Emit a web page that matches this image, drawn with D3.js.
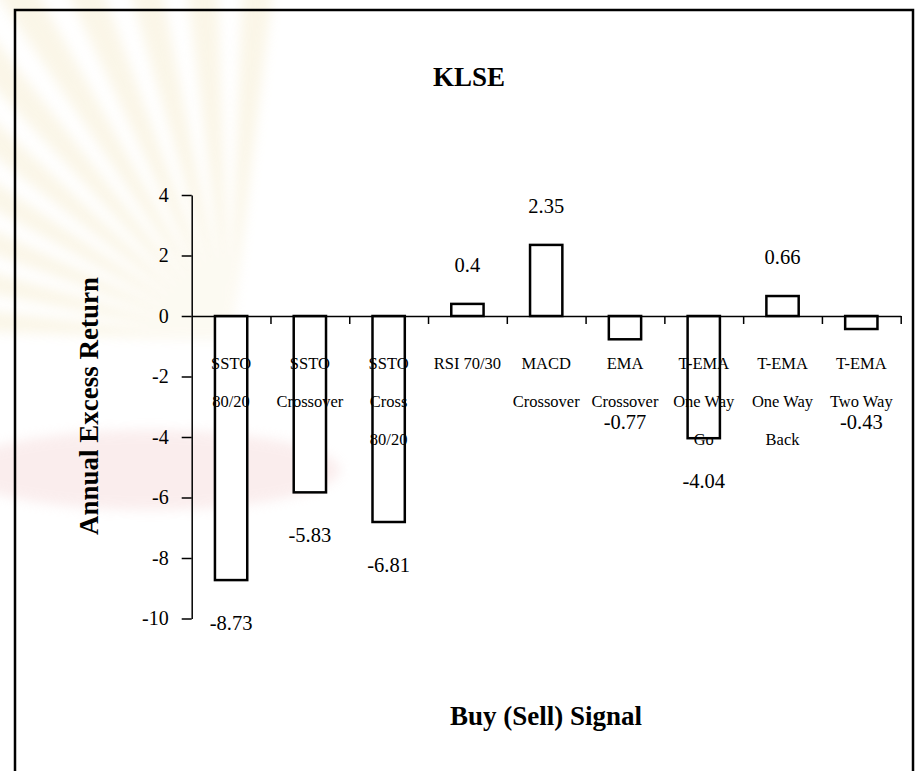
<!DOCTYPE html>
<html>
<head>
<meta charset="utf-8">
<script src="https://cdn.jsdelivr.net/npm/d3@7"></script>
<style>
  body { margin: 0; background: #fff; }
  svg { display: block; }
  text { font-family: "Liberation Serif", "Times New Roman", serif; fill: #000; }
</style>
</head>
<body>
<script>
// data
var categories = ["SSTO 80/20", "SSTO Crossover", "SSTO Cross 80/20", "RSI 70/30", "MACD Crossover",
                  "EMA Crossover", "T-EMA One Way Go", "T-EMA One Way Back", "T-EMA Two Way"];
var categoryLines = [["SSTO", "80/20"], ["SSTO", "Crossover"], ["SSTO", "Cross", "80/20"], ["RSI 70/30"],
                     ["MACD", "Crossover"], ["EMA", "Crossover"], ["T-EMA", "One Way", "Go"],
                     ["T-EMA", "One Way", "Back"], ["T-EMA", "Two Way"]];
var returns = [-8.73, -5.83, -6.81, 0.4, 2.35, -0.77, -4.04, 0.66, -0.43];
var yTicks = [4, 2, 0, -2, -4, -6, -8, -10];

var W = 918, H = 771;

var svg = d3.select("body").append("svg")
    .attr("width", W)
    .attr("height", H);

svg.append("defs").append("filter")
    .attr("id", "soft")
  .append("feGaussianBlur")
    .attr("stdDeviation", 6);

// very faint watermark behind the chart
var wm = svg.append("g").attr("opacity", 0.3).attr("filter", "url(#soft)");
var rayC = [230, 340];
d3.range(-178, -80, 9).forEach(function(a) {
  var r = a * Math.PI / 180, r2 = (a + 5) * Math.PI / 180;
  wm.append("path")
      .attr("d", "M" + rayC[0] + "," + rayC[1] +
                 "L" + (rayC[0] + 430 * Math.cos(r)) + "," + (rayC[1] + 430 * Math.sin(r)) +
                 "L" + (rayC[0] + 430 * Math.cos(r2)) + "," + (rayC[1] + 430 * Math.sin(r2)) + "Z")
      .attr("fill", "#f1e2b4");
});
wm.append("ellipse")
    .attr("cx", 150).attr("cy", 470).attr("rx", 190).attr("ry", 40)
    .attr("fill", "#f0c6c6");

// outer frame
svg.append("rect")
    .attr("x", 15)
    .attr("y", 10)
    .attr("width", 898)
    .attr("height", 800)
    .attr("fill", "none")
    .attr("stroke", "#000")
    .attr("stroke-width", 2.5);

var x0 = 191.7, x1 = 900.7;

var x = d3.scaleBand()
    .domain(categories)
    .range([x0, x1])
    .padding(0);

var xEdge = d3.scaleLinear().domain([0, categories.length]).range([x0, x1]);

var y = d3.scaleLinear()
    .domain([-10, 4])
    .range([618.5, 195]);

var barW = x.bandwidth() * 0.41;

// bars
svg.selectAll(".bar")
    .data(returns)
  .enter().append("rect")
    .attr("class", "bar")
    .attr("x", function(d, i) { return x(categories[i]) + (x.bandwidth() - barW) / 2; })
    .attr("y", function(d) { return y(Math.max(0, d)); })
    .attr("width", barW)
    .attr("height", function(d) { return Math.abs(y(d) - y(0)); })
    .attr("fill", "#fff")
    .attr("stroke", "#000")
    .attr("stroke-width", 2.5);

// y axis
var yAxis = svg.append("g")
    .attr("transform", "translate(" + x0 + ",0)")
    .call(d3.axisLeft(y)
      .tickValues(yTicks)
      .tickFormat(d3.format("d"))
      .tickSize(10)
      .tickSizeOuter(0)
      .tickPadding(13));
yAxis.select(".domain").attr("stroke-width", 1.5);
yAxis.selectAll(".tick line").attr("stroke-width", 1.5);
yAxis.selectAll(".tick text")
    .attr("font-family", "Liberation Serif, Times New Roman, serif")
    .attr("font-size", 20)
    .attr("fill", "#000")
    .text(function(d) { return d < 0 ? "-" + Math.abs(d) : d; });

// category axis at zero
var xAxis = svg.append("g")
    .attr("transform", "translate(0," + y(0) + ")")
    .call(d3.axisBottom(xEdge)
      .tickValues(d3.range(1, categories.length + 1))
      .tickFormat("")
      .tickSize(8)
      .tickSizeOuter(0));
xAxis.select(".domain").attr("stroke-width", 1.5);
xAxis.selectAll(".tick line").attr("stroke-width", 1.5);

// category labels
categoryLines.forEach(function(lines, i) {
  lines.forEach(function(s, k) {
    svg.append("text")
        .attr("x", x(categories[i]) + x.bandwidth() / 2)
        .attr("y", y(0) + 52.5 + k * 38)
        .attr("text-anchor", "middle")
        .attr("font-size", 16.5)
        .text(s);
  });
});

// value labels
svg.selectAll(".val")
    .data(returns)
  .enter().append("text")
    .attr("class", "val")
    .attr("x", function(d, i) { return x(categories[i]) + x.bandwidth() / 2; })
    .attr("y", function(d) {
      if (d >= 0) return y(d) - 32;
      return Math.max(y(d) + 43, y(0) + 106) + 7;
    })
    .attr("text-anchor", "middle")
    .attr("font-size", 20.5)
    .text(function(d) { return d < 0 ? "-" + Math.abs(d) : d; });

// titles
svg.append("text")
    .attr("x", 469)
    .attr("y", 86)
    .attr("text-anchor", "middle")
    .attr("font-size", 27)
    .attr("font-weight", "bold")
    .text("KLSE");

svg.append("text")
    .attr("transform", "translate(98,406) rotate(-90)")
    .attr("text-anchor", "middle")
    .attr("font-size", 27)
    .attr("font-weight", "bold")
    .text("Annual Excess Return");

svg.append("text")
    .attr("x", 546)
    .attr("y", 725)
    .attr("text-anchor", "middle")
    .attr("font-size", 27)
    .attr("font-weight", "bold")
    .text("Buy (Sell) Signal");
</script>
</body>
</html>
